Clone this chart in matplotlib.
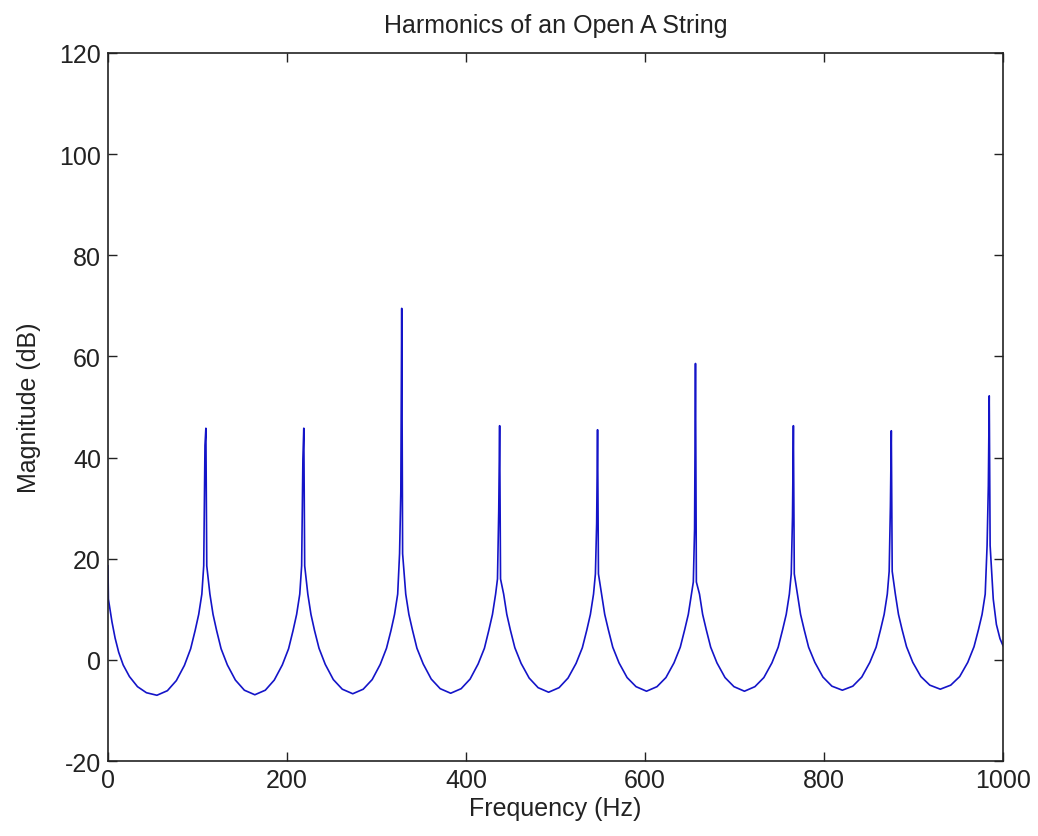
import matplotlib
matplotlib.use("Agg")
import matplotlib.pyplot as plt
import numpy as np

plt.rcParams['font.family'] = ['Liberation Sans', 'DejaVu Sans']
plt.rcParams['axes.unicode_minus'] = False

# harmonic spikes (Hz, dB)
harm_hz = [109.4, 218.8, 328.2, 437.6, 547.0, 656.4, 765.8, 875.2, 984.6]
peak_db = [45.8, 45.8, 69.5, 46.3, 45.5, 58.6, 46.3, 45.3, 52.2]
second_db = [42.4, 39.7, 33.2, 29.5, 27.0, 25.9, 28.3, 30.5, 34.4]
foot_db = [18.6, 18.6, 21.0, 16.0, 17.0, 15.4, 17.0, 17.5, 22.6]

# distance from a harmonic for the flank points (Hz)
flank_off = [4.5, 8, 12, 17, 24, 33, 43]

# left edge, from 0 Hz down into the first valley
edge_hz = [0, 0.5, 4.5, 8, 12, 17, 24, 33, 43, 54.7]
edge_db = [18.6, 12, 7.5, 4.3, 1.5, -1.0, -3.3, -5.3, -6.5, -7.0]
# left flank of the first harmonic (far -> near)
first_flank_db = [-6.1, -4.1, -1.1, 2.2, 5.8, 9, 13]

# valleys between harmonics: right flank (near -> far), trough, left flank (far -> near)
lobe_db = [
    [13, 9, 5.8, 2.2, -1.0, -4.0, -6.0, -6.9, -6.0, -4.0, -1.0, 2.2, 5.8, 9, 13],
    [13, 9, 5.8, 2.3, -0.9, -3.9, -5.8, -6.7, -5.8, -3.9, -0.9, 2.3, 5.8, 9, 13],
    [13, 9, 5.9, 2.3, -0.8, -3.8, -5.7, -6.6, -5.7, -3.8, -0.8, 2.3, 5.9, 9, 13],
    [13, 9, 5.9, 2.4, -0.7, -3.6, -5.5, -6.4, -5.5, -3.6, -0.7, 2.4, 5.9, 9, 13],
    [13, 9, 6.0, 2.5, -0.6, -3.5, -5.3, -6.2, -5.3, -3.5, -0.6, 2.5, 6.0, 9, 13],
    [13, 9, 6.0, 2.5, -0.6, -3.5, -5.3, -6.2, -5.3, -3.5, -0.6, 2.5, 6.0, 9, 13],
    [13, 9, 6.0, 2.5, -0.5, -3.4, -5.2, -6.0, -5.2, -3.4, -0.5, 2.5, 6.0, 9, 13],
    [13, 9, 6.0, 2.6, -0.5, -3.3, -5.0, -5.8, -5.0, -3.3, -0.5, 2.6, 6.0, 9, 13],
]

# right end after the last harmonic
tail_hz = [989.1, 992.6, 996.6, 1000]
tail_db = [12, 7, 4.2, 2.8]

# assemble the curve
f = list(edge_hz)
m = list(edge_db)
c0 = harm_hz[0]
for o, v in zip(flank_off[::-1], first_flank_db):
    f.append(c0 - o)
    m.append(v)
for k, c in enumerate(harm_hz):
    f += [c - 2.4, c - 1.0, c, c + 1.0]
    m += [foot_db[k], second_db[k], peak_db[k], foot_db[k]]
    if k < len(lobe_db):
        row = lobe_db[k]
        nxt = harm_hz[k + 1]
        for o, v in zip(flank_off, row[:7]):
            f.append(c + o)
            m.append(v)
        f.append((c + nxt) / 2)
        m.append(row[7])
        for o, v in zip(flank_off[::-1], row[8:]):
            f.append(nxt - o)
            m.append(v)
f += tail_hz
m += tail_db

fig = plt.figure(figsize=(10.38, 8.37), dpi=100)
ax = fig.add_axes([0.104, 0.0896, 0.8623, 0.8459])
ax.plot(f, m, color='#1414c8', linewidth=1.2)

ax.set_xlim(0, 1000)
ax.set_ylim(-20, 120)
ax.set_xticks(np.arange(0, 1001, 200))
ax.set_yticks(np.arange(-20, 121, 20))
ax.tick_params(direction='in', length=6.5, width=1, top=True, right=True,
               labelsize=18, colors='#222222', pad=5)
for s in ax.spines.values():
    s.set_linewidth(1.2)
    s.set_color('#222222')

ax.set_xlabel("Frequency (Hz)", fontsize=18, color='#222222', labelpad=3)
ax.set_ylabel("Magnitude (dB)", fontsize=18, color='#222222', labelpad=13)
ax.set_title("Harmonics of an Open A String", fontsize=18, color='#222222', pad=15)

fig.savefig("out.png", dpi=100)
